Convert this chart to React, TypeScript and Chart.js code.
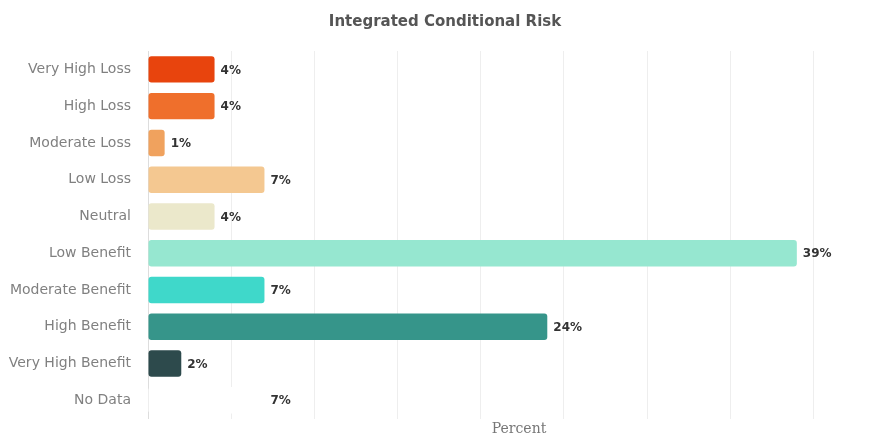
import React, { useEffect, useRef } from "react";
import { Chart, registerables } from "chart.js";

Chart.register(...registerables);

const categories = [
  "Very High Loss",
  "High Loss",
  "Moderate Loss",
  "Low Loss",
  "Neutral",
  "Low Benefit",
  "Moderate Benefit",
  "High Benefit",
  "Very High Benefit",
  "No Data",
];

const percentValues = [4, 4, 1, 7, 4, 39, 7, 24, 2, 7];

const barColors = [
  "#e8440d",
  "#ef6f2c",
  "#f0a25e",
  "#f4c891",
  "#ebe8cb",
  "#96e7d0",
  "#3fd8ca",
  "#36958a",
  "#2d4a4c",
  "#ffffff",
];

const chartTitle = "Integrated Conditional Risk";
const xAxisTitle = "Percent";

const FONT = "'DejaVu Sans', Verdana, sans-serif";

const valueLabelPlugin = {
  id: "valueLabels",
  afterDatasetsDraw(chart: any) {
    const ctx = chart.ctx;
    const meta = chart.getDatasetMeta(0);
    ctx.save();
    ctx.font = `bold 12px ${FONT}`;
    ctx.fillStyle = "#333333";
    ctx.textAlign = "left";
    ctx.textBaseline = "middle";
    meta.data.forEach((bar: any, i: number) => {
      const v = chart.data.datasets[0].data[i];
      ctx.fillText(`${Math.round(v)}%`, bar.x + 6, bar.y + 1);
    });
    ctx.restore();
  },
};

export default function App() {
  const canvasRef = useRef<HTMLCanvasElement | null>(null);

  useEffect(() => {
    if (!canvasRef.current) return;
    const chart = new Chart(canvasRef.current, {
      type: "bar",
      data: {
        labels: categories,
        datasets: [
          {
            data: percentValues,
            backgroundColor: barColors,
            borderRadius: 3,
            borderSkipped: false,
            barPercentage: 0.9,
            categoryPercentage: 0.8,
          },
        ],
      },
      options: {
        indexAxis: "y",
        animation: false,
        responsive: true,
        maintainAspectRatio: false,
        layout: { padding: { top: 13, right: 0, bottom: 0, left: 0 } },
        plugins: {
          legend: { display: false },
          tooltip: { enabled: false },
          title: {
            display: true,
            text: chartTitle,
            color: "#555555",
            font: { family: FONT, size: 15, weight: "bold" },
            padding: { top: 0, bottom: 20 },
          },
        },
        scales: {
          x: {
            min: 0,
            max: 44.6,
            ticks: { display: false, stepSize: 5, includeBounds: false },
            grid: { color: "#eeeeee", drawTicks: false },
            border: { display: false },
            title: {
              display: true,
              text: xAxisTitle,
              color: "#777777",
              font: { family: "'DejaVu Serif', serif", size: 14 },
              padding: { top: 2, bottom: 4 },
            },
          },
          y: {
            grid: { display: false, drawTicks: false },
            border: { display: true, color: "#dddddd", width: 1 },
            ticks: {
              color: "#808080",
              font: { family: FONT, size: 14 },
              padding: 17,
            },
            afterFit(scale: any) {
              scale.width = 148;
            },
          },
        },
      },
      plugins: [valueLabelPlugin],
    } as any);
    return () => chart.destroy();
  }, []);

  return (
    <div
      style={{
        position: "fixed",
        left: 0,
        top: 0,
        width: 890,
        height: 444,
        background: "#ffffff",
      }}
    >
      <canvas ref={canvasRef} />
    </div>
  );
}
